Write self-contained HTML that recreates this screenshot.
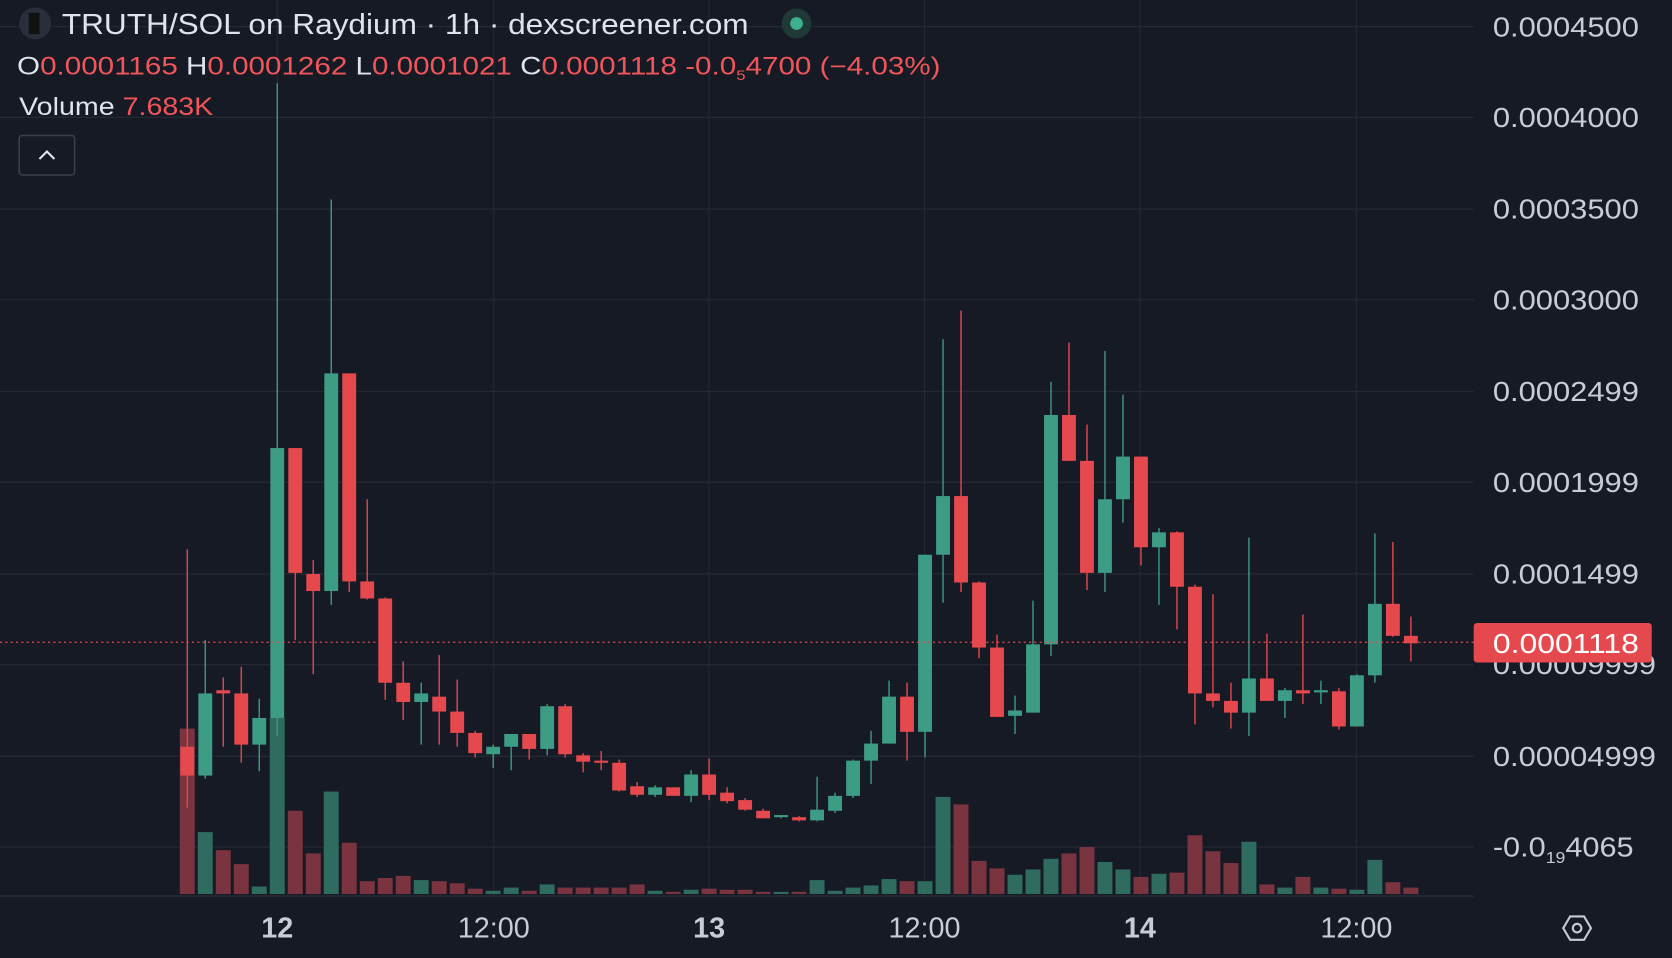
<!DOCTYPE html>
<html><head><meta charset="utf-8"><style>
html,body{margin:0;padding:0;background:#161a25;overflow:hidden}
svg{display:block}
text{font-family:"Liberation Sans",sans-serif}
</style></head><body>
<svg id="c" width="1672" height="958" viewBox="0 0 1568 898" preserveAspectRatio="none" xmlns="http://www.w3.org/2000/svg">
<rect width="1568" height="898" fill="#161a25"/>
<g id="grid" stroke="#242833" stroke-width="1.2"></g>
<g id="vol"></g>
<g id="cdl"></g>
<line x1="0" y1="602" x2="1382" y2="602" stroke="#e5484d" stroke-width="1.2" stroke-dasharray="2,3"/>
<line x1="0" y1="840" x2="1382" y2="840" stroke="#2a2e39" stroke-width="1.5"/>
<g id="ax" fill="#c9ccd4" font-size="26"></g>
<rect x="1382" y="584" width="167" height="37" rx="3" fill="#e5484d"/>
<text x="1400" y="612" font-size="26" fill="#fff" textLength="137" lengthAdjust="spacingAndGlyphs">0.0001118</text>
<g font-size="27" fill="#c9ccd4" text-anchor="middle">
<text x="260" y="879" font-weight="bold">12</text>
<text x="463" y="879">12:00</text>
<text x="665" y="879" font-weight="bold">13</text>
<text x="867" y="879">12:00</text>
<text x="1069" y="879" font-weight="bold">14</text>
<text x="1272" y="879">12:00</text>
</g>
<g transform="translate(1479,870)" fill="none" stroke="#c9ccd4" stroke-width="2">
<polygon points="-13,0 -6.5,-11 6.5,-11 13,0 6.5,11 -6.5,11"/><circle r="4"/></g>
<circle cx="33" cy="22" r="15" fill="#2a2e39"/>
<rect x="27" y="12" width="10" height="20" fill="#111"/>
<text x="58" y="32" font-size="27" fill="#e0e3eb" textLength="644" lengthAdjust="spacingAndGlyphs">TRUTH/SOL on Raydium · 1h · dexscreener.com</text>
<circle cx="747" cy="22" r="14" fill="#1f3a36"/><circle cx="747" cy="22" r="6" fill="#3fae8f"/>
<text x="16" y="70" font-size="23" fill="#e0e3eb" textLength="866" lengthAdjust="spacingAndGlyphs">O<tspan fill="#f0555a">0.0001165</tspan>  H<tspan fill="#f0555a">0.0001262</tspan>  L<tspan fill="#f0555a">0.0001021</tspan>  C<tspan fill="#f0555a">0.0001118  -0.0<tspan font-size="13" dy="5">5</tspan><tspan dy="-5">4700 (−4.03%)</tspan></tspan></text>
<text x="18" y="108" font-size="23" fill="#e0e3eb" textLength="182" lengthAdjust="spacingAndGlyphs">Volume  <tspan fill="#f0555a">7.683K</tspan></text>
<rect x="18" y="127" width="52" height="37" rx="3" fill="none" stroke="#3a3e49" stroke-width="1.5"/>
<polyline points="37,149 44,142 51,149" fill="none" stroke="#e0e3eb" stroke-width="2"/>
</svg>
<script>
const NS="http://www.w3.org/2000/svg";
function el(p,t,a){const e=document.createElementNS(NS,t);for(const k in a)e.setAttribute(k,a[k]);document.getElementById(p).appendChild(e);return e;}
const gy=[25,110,196,281,367,452,538,623,709,794];
gy.forEach(y=>el('grid','line',{x1:0,y1:y,x2:1382,y2:y}));
[260,463,665,867,1069,1272].forEach(x=>el('grid','line',{x1:x,y1:0,x2:x,y2:840}));
const labs=["0.0004500","0.0004000","0.0003500","0.0003000","0.0002499","0.0001999","0.0001499","0.00009999","0.00004999"];
labs.forEach((l,i)=>{const t=el('ax','text',{x:1400,y:gy[i]+9,textLength:l.length==10?153:137,lengthAdjust:'spacingAndGlyphs'});t.textContent=l;});
const t=el('ax','text',{x:1400,y:803,textLength:132,lengthAdjust:'spacingAndGlyphs'});t.innerHTML='-0.0<tspan font-size="15" dy="6">19</tspan><tspan dy="-6">4065</tspan>';
const C=[
[0,700,727,515,757,683],[1,650,727,600,730,780],[0,647,650,635,700,797],[0,650,698,625,715,810],[1,673,698,655,723,831],
[1,420,673,78,690,673],[0,420,537,420,600,760],[0,538,554,525,632,800],[1,350,554,187,567,742],[0,350,545,350,555,790],
[0,545,561,468,562,826],[0,561,640,560,656,823],[0,640,658,620,675,821],[1,650,658,640,698,825],[0,653,667,614,698,826],
[0,667,687,637,700,828],[0,687,706,685,710,833],[1,700,707,698,720,835],[1,688,700,688,722,832],[0,688,702,688,712,835],
[1,662,702,660,708,829],[0,662,707,660,710,832],[0,708,714,706,724,832],[0,713,715,704,722,832],[0,715,741,712,742,832],
[0,737,745,733,747,829],[1,738,745,736,747,835],[0,738,746,738,746,836],[1,726,746,722,752,834],[0,726,745,711,750,833],
[0,743,751,738,753,834],[0,750,759,748,760,834],[0,760,767,758,767,836],[1,764,766,764,767,836],[0,766,769,765,770,836],
[1,759,769,728,770,825],[1,746,760,743,762,835],[1,713,746,712,748,832],[1,697,713,685,735,830],[1,653,697,638,697,824],
[0,653,686,640,713,826],[1,520,686,520,710,826],[1,465,520,318,565,747],[0,465,546,291,555,754],[0,546,607,545,617,807],
[0,607,672,595,672,814],[1,666,671,652,688,820],[1,604,668,563,668,815],[1,389,604,358,615,805],[0,389,432,321,432,800],
[0,432,537,398,553,794],[1,468,537,329,555,808],[1,428,468,370,490,815],[0,428,513,428,530,822],[1,499,513,495,567,819],
[0,499,550,498,590,818],[0,550,650,548,679,783],[0,650,657,557,663,798],[0,657,668,640,683,809],[1,636,668,504,690,789],
[0,636,657,594,657,829],[1,647,657,645,673,832],[0,647,650,576,660,822],[1,647,649,638,660,832],[0,648,681,645,684,833],
[1,633,681,632,681,834],[1,566,633,500,640,806],[0,566,596,508,597,827],[0,596,603,578,620,832]];
C.forEach((c,k)=>{const i=k-5,x=260+i*16.875;const col=c[0]?'#3d9c84':'#e5484d';
el('vol','rect',{x:x-7,y:c[5],width:14,height:838-c[5],fill:c[0]?'#2f6b5e':'#7a3440'});
el('cdl','line',{x1:x,y1:c[3],x2:x,y2:c[4],stroke:col,'stroke-width':1.3});
el('cdl','rect',{x:x-6.5,y:c[1],width:13,height:Math.max(2,c[2]-c[1]),fill:col});});
</script>
</body></html>
